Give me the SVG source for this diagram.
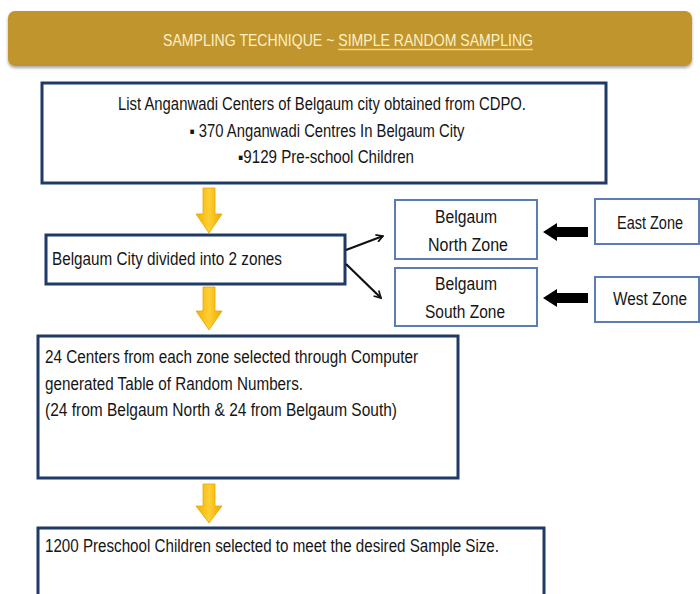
<svg xmlns="http://www.w3.org/2000/svg" width="700" height="594" viewBox="0 0 700 594">
<defs>
<style>
.t{font-family:"Liberation Sans",Arial,sans-serif;font-size:17.5px;fill:#151515}
.hd{font-family:"Liberation Sans",Arial,sans-serif;font-size:16.5px;fill:#FDF1C4}
.box{fill:#fff;stroke:#1F3A66;stroke-width:3}
.zb{fill:#fff;stroke:#5B7DB3;stroke-width:2}
.ya{fill:url(#yg);stroke:#E2A800;stroke-width:0.8}
.con{stroke:#111;stroke-width:2.2;fill:none;marker-end:url(#va)}
.blk{fill:#000}
</style>
<linearGradient id="yg" x1="0" y1="0" x2="1" y2="0">
<stop offset="0" stop-color="#F4B000"/>
<stop offset="0.5" stop-color="#FFCF33"/>
<stop offset="1" stop-color="#EFA900"/>
</linearGradient>
<marker id="va" viewBox="0 0 12 12" refX="10" refY="6" markerWidth="9" markerHeight="9" orient="auto" markerUnits="userSpaceOnUse">
<path d="M1,1 L10,6 L1,11" fill="none" stroke="#111" stroke-width="2.2"/>
</marker>
<filter id="sh" x="-5%" y="-20%" width="110%" height="150%">
<feGaussianBlur in="SourceAlpha" stdDeviation="1.5"/>
<feOffset dy="2"/>
<feComponentTransfer><feFuncA type="linear" slope="0.35"/></feComponentTransfer>
<feMerge><feMergeNode/><feMergeNode in="SourceGraphic"/></feMerge>
</filter>
</defs>
<rect width="700" height="594" fill="#fff"/>

<g id="header">
<rect x="8" y="11" width="684" height="55" rx="7" fill="#C1952F" filter="url(#sh)"/>
<text class="hd" x="163" y="46" textLength="370" lengthAdjust="spacingAndGlyphs">SAMPLING TECHNIQUE ~ SIMPLE RANDOM SAMPLING</text>
<line x1="338" y1="49.5" x2="533" y2="49.5" stroke="#F3D667" stroke-width="1.3"/>
</g>

<g id="box1">
<rect class="box" x="42" y="83" width="564" height="100"/>
<text class="t" x="322" y="110" text-anchor="middle" textLength="408" lengthAdjust="spacingAndGlyphs">List Anganwadi Centers of Belgaum city obtained from CDPO.</text>
<text class="t" x="327" y="137" text-anchor="middle" textLength="275" lengthAdjust="spacingAndGlyphs">▪ 370 Anganwadi Centres In Belgaum City</text>
<text class="t" x="326" y="163" text-anchor="middle" textLength="176" lengthAdjust="spacingAndGlyphs">▪9129 Pre-school Children</text>
</g>

<g id="arrow1">
<path class="ya" d="M203,188 H215 V214 H222 L209,233 L196,214 H203 Z"/>
</g>

<g id="box2">
<rect class="box" x="46" y="235" width="299" height="49"/>
<text class="t" x="52" y="265" textLength="230" lengthAdjust="spacingAndGlyphs">Belgaum City divided into 2 zones</text>
</g>

<g id="north">
<rect class="zb" x="395" y="200" width="142" height="59"/>
<text class="t" x="466" y="223" text-anchor="middle" textLength="62" lengthAdjust="spacingAndGlyphs">Belgaum</text>
<text class="t" x="468" y="251" text-anchor="middle" textLength="80" lengthAdjust="spacingAndGlyphs">North Zone</text>
</g>

<g id="south">
<rect class="zb" x="395" y="268" width="142" height="58"/>
<text class="t" x="466" y="290" text-anchor="middle" textLength="62" lengthAdjust="spacingAndGlyphs">Belgaum</text>
<text class="t" x="465" y="318" text-anchor="middle" textLength="80" lengthAdjust="spacingAndGlyphs">South Zone</text>
</g>

<g id="east">
<rect class="zb" x="595" y="199" width="104" height="45"/>
<text class="t" x="650" y="229" text-anchor="middle" textLength="66" lengthAdjust="spacingAndGlyphs">East Zone</text>
</g>

<g id="west">
<rect class="zb" x="595" y="277" width="104" height="45"/>
<text class="t" x="650" y="305" text-anchor="middle" textLength="74" lengthAdjust="spacingAndGlyphs">West Zone</text>
</g>

<g id="arrow2">
<path class="ya" d="M203,287 H215 V311 H222 L209,330 L196,311 H203 Z"/>
</g>

<g id="box3">
<rect class="box" x="38" y="336" width="420" height="142"/>
<text class="t" x="45" y="363" textLength="373" lengthAdjust="spacingAndGlyphs">24 Centers from each zone selected through Computer</text>
<text class="t" x="45" y="390" textLength="258" lengthAdjust="spacingAndGlyphs">generated Table of Random Numbers.</text>
<text class="t" x="45" y="416" textLength="352" lengthAdjust="spacingAndGlyphs">(24 from Belgaum North &amp; 24 from Belgaum South)</text>
</g>

<g id="arrow3">
<path class="ya" d="M203,484 H215 V506 H222 L209,523 L196,506 H203 Z"/>
</g>

<g id="box4">
<rect class="box" x="38" y="528" width="506" height="80"/>
<text class="t" x="45" y="552" textLength="454" lengthAdjust="spacingAndGlyphs">1200 Preschool Children selected to meet the desired Sample Size.</text>
</g>

<g id="connectors">
<line class="con" x1="346" y1="250" x2="383" y2="236"/>
<line class="con" x1="346" y1="264" x2="381" y2="298"/>
<path class="blk" d="M588,227 V237 H557 V241 L543,232 L557,223 V227 Z"/>
<path class="blk" d="M588,293 V303 H557 V307 L543,298 L557,289 V293 Z"/>
</g>
</svg>
